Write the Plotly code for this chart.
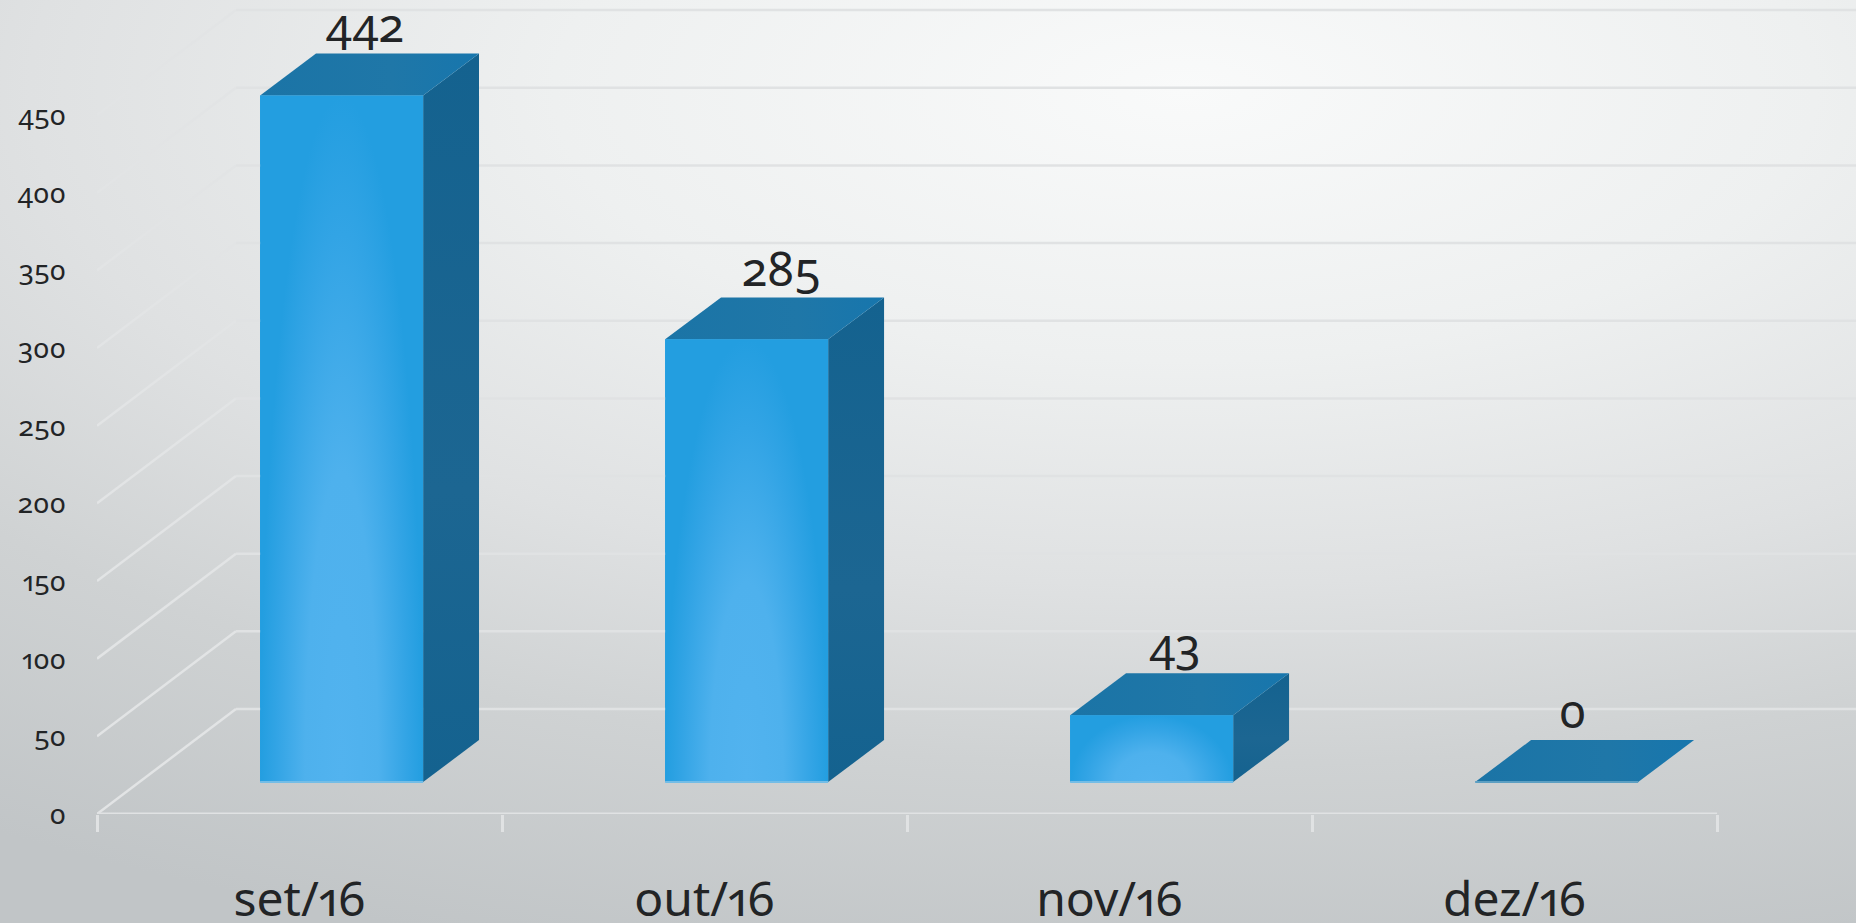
import base64
import plotly.graph_objects as go

# ---- data ----
categories = ["set/16", "out/16", "nov/16", "dez/16"]
values = [442, 285, 43, 0]
y_ticks = [0, 50, 100, 150, 200, 250, 300, 350, 400, 450]

FONT = "Noto Sans"
TEXT = "#222426"
GRID = "#e0e2e3"

# ---- pseudo-3D projection, in axis units ----
WALL_DX, WALL_DY = 0.343, 67.6    # front of floor -> back wall
BAR_SHIFT_X, BAR_SHIFT_Y = 0.104, 20.6   # front of floor -> front of bar
BAR_DX, BAR_DY = 0.138, 27.0      # bar front -> bar back
BAR_W = 0.4025
X0, X1 = -0.5, 3.843
Y_MAX = 524.1
n = len(categories)
label_nudge = [-0.012, 0.016, -0.012, -0.03]

traces = []

def poly(xs, ys, **kw):
    traces.append(go.Scatter(x=xs, y=ys, mode="lines", line=dict(width=0, simplify=False),
                             fill="toself", hoverinfo="skip", showlegend=False, **kw))

def seg(xs, ys, color, width):
    traces.append(go.Scatter(x=xs, y=ys, mode="lines", line=dict(color=color, width=width, simplify=False),
                             hoverinfo="skip", showlegend=False, cliponaxis=False))

# walls
for v in y_ticks:
    seg([X0, X0 + WALL_DX], [v, v + WALL_DY], "#e2e4e5", 2.5)
    seg([X0 + WALL_DX, X1], [v + WALL_DY, v + WALL_DY], GRID, 2.5)
seg([X0, n - 0.5], [0, 0], GRID, 3)

# side and top faces
for i, v in enumerate(values):
    l = i - BAR_W / 2 + BAR_SHIFT_X
    r = l + BAR_W
    b = BAR_SHIFT_Y
    t = b + v
    if v > 0:
        poly([r, r + BAR_DX, r + BAR_DX, r, r], [b, b + BAR_DY, t + BAR_DY, t, b],
             fillgradient=dict(type="vertical",
                               colorscale=[[0, "#14628f"], [0.4, "#1c6692"], [1, "#14628f"]]))
    poly([l, r, r + BAR_DX, l + BAR_DX, l], [t, t, t + BAR_DY, t + BAR_DY, t],
         fillgradient=dict(type="horizontal",
                           colorscale=[[0, "#1b74a6"], [0.6, "#1f77a8"], [1, "#1776ad"]]))

# front faces: real bars
traces.append(go.Bar(x=[i + BAR_SHIFT_X for i in range(n)], y=values,
                     base=[BAR_SHIFT_Y] * n, width=BAR_W,
                     marker=dict(color="#239ee0", line=dict(width=0)),
                     hoverinfo="skip", showlegend=False))

# shine on the front faces, centred on the middle of the bottom edge
for i, v in enumerate(values):
    l = i - BAR_W / 2 + BAR_SHIFT_X
    r = l + BAR_W
    c = i + BAR_SHIFT_X
    b = BAR_SHIFT_Y
    t = b + v
    if v > 0:
        poly([l, c, c, c, r, r, l, l], [b, b, b - v, b, b, t, t, b],
             fillgradient=dict(type="radial",
                               colorscale=[[0, "#52b3ef"], [0.45, "#4eb1ed"], [0.8, "#32a4e5"], [1, "#239ee0"]]))
    seg([l, r], [b, b], "#74bde6" if v > 0 else "#5c9fc2", 2)

# value labels
traces.append(go.Scatter(
    x=[i + BAR_SHIFT_X + BAR_DX / 2 + label_nudge[i] for i in range(n)],
    y=[BAR_SHIFT_Y + v + BAR_DY for v in values],
    mode="text", text=[str(v) for v in values], textposition="top center",
    textfont=dict(family=FONT, size=47, color=TEXT),
    hoverinfo="skip", showlegend=False, cliponaxis=False))

svg = """<svg xmlns='http://www.w3.org/2000/svg' width='1856' height='923' preserveAspectRatio='none'>
<defs><radialGradient id='g' gradientUnits='userSpaceOnUse' cx='0' cy='0' r='1'
 gradientTransform='translate(1185 90) scale(2100 900)'>
<stop offset='0' stop-color='#f9fafa'/>
<stop offset='0.3' stop-color='#eef0f0'/>
<stop offset='0.55' stop-color='#dfe1e2'/>
<stop offset='0.75' stop-color='#cfd2d3'/>
<stop offset='1' stop-color='#c1c5c7'/>
</radialGradient></defs>
<rect width='1856' height='923' fill='url(#g)'/></svg>"""
bg = "data:image/svg+xml;base64," + base64.b64encode(svg.encode()).decode()

fig = go.Figure(traces)
fig.update_layout(
    width=1856, height=923, autosize=False,
    margin=dict(l=97, r=0, t=0, b=109, pad=0),
    paper_bgcolor="#d0d3d4", plot_bgcolor="rgba(0,0,0,0)",
    font=dict(family=FONT, color=TEXT),
    images=[dict(source=bg, xref="paper", yref="paper", x=-97 / 1759, y=1 + 0, xanchor="left", yanchor="top",
                 sizex=1856 / 1759, sizey=923 / 814, sizing="stretch", layer="below")],
    xaxis=dict(range=[X0, X1], tickmode="array", tickvals=list(range(n)), ticktext=categories,
               automargin=False,
               showgrid=False, zeroline=False, showline=False, ticks="", ticklabelstandoff=53,
               tickfont=dict(family=FONT, size=48, color=TEXT),
               minor=dict(tickmode="array", tickvals=[i - 0.5 for i in range(n + 1)], ticks="outside",
                          ticklen=17, tickwidth=2.5, tickcolor=GRID, showgrid=False)),
    yaxis=dict(range=[0, Y_MAX], tickmode="array", tickvals=y_ticks, showgrid=False, zeroline=False,
               automargin=False,
               showline=False, ticks="", ticklabelstandoff=30,
               tickfont=dict(family=FONT, size=28, color=TEXT)),
    barmode="overlay",
)

post = """
document.body.style.margin='0';document.documentElement.style.overflow='hidden';
var s=document.createElement('style');
s.textContent='text{font-feature-settings:"onum" 1,"pnum" 1;}';
document.head.appendChild(s);
"""
fig.write_html("out.html", post_script=post, default_width="1856px", default_height="923px",
               config={"responsive": False, "displayModeBar": False})
